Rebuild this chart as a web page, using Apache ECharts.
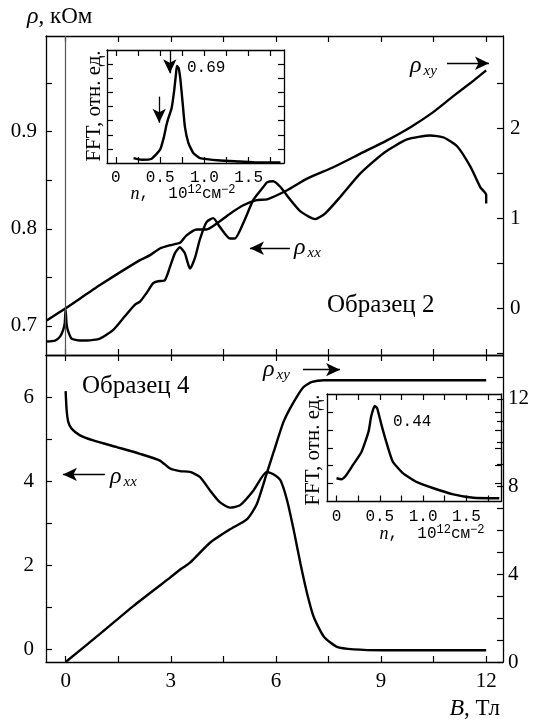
<!DOCTYPE html>
<html>
<head>
<meta charset="utf-8">
<script src="https://cdn.jsdelivr.net/npm/echarts@6/dist/echarts.min.js"></script>
<style>
  html, body { margin: 0; padding: 0; background: #fff; }
  #chart { width: 534px; height: 722px; }
</style>
</head>
<body>
<div id="chart"></div>
<script>
// Образец 2 (верхняя панель): rho_xx в кОм (левая ось), rho_xy (правая ось)
var bTopXX = [-0.54, -0.30, -0.16, -0.07, -0.025, 0, 0.025, 0.06, 0.17, 0.41, 0.6, 0.98, 1.36, 1.69, 1.98, 2.12, 2.31, 2.5, 2.64, 2.83, 2.98, 3.12, 3.26, 3.4, 3.55, 3.69, 3.83, 4.02, 4.21, 4.4, 4.69, 4.83, 5.07, 5.36, 5.64, 5.75, 5.92, 6.13, 6.41, 6.7, 7.12, 7.41, 7.84, 8.41, 9.08, 9.74, 10.41, 10.79, 11.17, 11.55, 11.83, 12.0, 12.0];
var rhoTopXX = [0.684, 0.685, 0.689, 0.696, 0.703, 0.717, 0.703, 0.696, 0.687, 0.685, 0.685, 0.687, 0.696, 0.710, 0.722, 0.725, 0.734, 0.744, 0.746, 0.747, 0.761, 0.775, 0.781, 0.775, 0.759, 0.770, 0.789, 0.807, 0.811, 0.802, 0.790, 0.790, 0.806, 0.830, 0.843, 0.848, 0.849, 0.843, 0.830, 0.818, 0.810, 0.816, 0.833, 0.857, 0.878, 0.892, 0.896, 0.894, 0.885, 0.864, 0.843, 0.835, 0.826];
var bTopXY = [-0.54, 0, 0.98, 2.12, 2.41, 2.69, 2.98, 3.26, 3.45, 3.74, 4.02, 4.31, 4.69, 5.07, 5.45, 5.75, 6.32, 6.89, 7.65, 8.41, 9.17, 9.84, 10.5, 11.08, 11.65, 12.0];
var rhoTopXY = [-0.135, 0, 0.258, 0.535, 0.59, 0.664, 0.70, 0.727, 0.81, 0.875, 0.875, 0.94, 1.05, 1.144, 1.2, 1.21, 1.31, 1.44, 1.568, 1.716, 1.864, 2.01, 2.18, 2.36, 2.53, 2.64];

// Образец 4 (нижняя панель)
var bBotXX = [0, 0.03, 0.075, 0.17, 0.41, 0.79, 1.46, 2.12, 2.69, 2.98, 3.26, 3.55, 3.83, 4.12, 4.4, 4.69, 4.98, 5.36, 5.74, 5.94, 6.13, 6.32, 6.51, 6.70, 6.89, 7.08, 7.37, 7.74, 8.22, 9.08, 12];
var rhoBotXX = [6.14, 5.68, 5.41, 5.25, 5.09, 4.97, 4.81, 4.65, 4.49, 4.30, 4.24, 4.22, 4.10, 3.78, 3.50, 3.37, 3.43, 3.78, 4.22, 4.16, 4.02, 3.54, 2.83, 2.04, 1.33, 0.77, 0.30, 0.06, 0.0, -0.02, -0.02];
var bBotXY = [0, 0.98, 1.93, 2.98, 3.3, 3.55, 4.12, 4.69, 5.17, 5.45, 5.74, 5.94, 6.22, 6.51, 6.79, 7.03, 7.37, 8.6, 12];
var rhoBotXY = [0, 1.28, 2.55, 3.85, 4.25, 4.53, 5.44, 6.05, 6.50, 7.18, 8.61, 9.60, 10.96, 11.86, 12.54, 12.77, 12.85, 12.85, 12.85];

// FFT во вставках
var nFft2 = [0.2, 0.29, 0.4, 0.5, 0.54, 0.57, 0.59, 0.63, 0.66, 0.68, 0.69, 0.71, 0.73, 0.755, 0.78, 0.82, 0.875, 0.95, 1.18, 1.4, 1.59, 1.86];
var fft2 = [0.35, 0.23, 0.28, 0.94, 1.77, 2.63, 3.11, 3.88, 5.18, 6.35, 6.87, 6.71, 5.88, 4.24, 2.58, 1.41, 0.71, 0.35, 0.18, 0.11, 0.04, 0.04];
var nFft4 = [0.0, 0.06, 0.1, 0.19, 0.29, 0.37, 0.40, 0.44, 0.47, 0.52, 0.58, 0.65, 0.77, 0.92, 1.12, 1.35, 1.58, 1.88];
var fft4 = [1.30, 1.24, 1.39, 2.04, 2.78, 3.9, 4.74, 5.34, 5.2, 4.26, 3.24, 2.22, 1.57, 1.10, 0.74, 0.40, 0.21, 0.18];

// ticks / labels
var bTicks = [0, 1.5, 3, 4.5, 6, 7.5, 9, 10.5, 12];
var bLabels = [0, 3, 6, 9, 12];
var topLeftTicks = [0.7, 0.75, 0.8, 0.85, 0.9, 0.95];
var topLeftLabels = [0.7, 0.8, 0.9];
var topRightTicks = [-0.5, 0, 0.5, 1, 1.5, 2, 2.5];
var topRightLabels = [0, 1, 2];
var botLeftTicks = [0, 1, 2, 3, 4, 5, 6];
var botLeftLabels = [0, 2, 4, 6];
var botRightTicks = [0, 1, 2, 3, 4, 5, 6, 7, 8, 9, 10, 11, 12, 13];
var botRightLabels = [0, 4, 8, 12];
var nTicks = [0, 0.25, 0.5, 0.75, 1, 1.25, 1.5, 1.75];
var nLabels = [0, 0.5, 1, 1.5];
var fft2Ticks = [1, 2, 3, 4, 5, 6, 7];
var fft4Ticks = [1, 2, 3, 4, 5];

var SERIF = 'Liberation Serif';
var MONO = 'Liberation Mono';

function pairs(xs, ys) {
  return xs.map(function (x, i) { return [x, ys[i]]; });
}

function ax(grid, pos, min, max, ticks, labels, fmt, font) {
  return {
    type: 'value', gridIndex: grid, position: pos, min: min, max: max,
    axisLine: { show: true, onZero: false, lineStyle: { color: '#000', width: 1.3 } },
    axisTick: { show: true, inside: true, length: 6, customValues: ticks, lineStyle: { color: '#000', width: 1.2 } },
    axisLabel: labels ? {
      show: true, customValues: labels, formatter: fmt,
      color: '#000', fontFamily: font.family, fontSize: font.size, margin: font.margin
    } : { show: false },
    splitLine: { show: false }
  };
}

var big = { family: SERIF, size: 21, margin: 9 };
var small = { family: MONO, size: 16, margin: 7 };
function f1(v) { return v.toFixed(1); }
function fInt(v) { return String(v); }
function fN(v) { return v === 0 ? '0' : v.toFixed(1); }

function arrow(x1, y1, x2, y2) {
  return [{ coord: [x1, y1], symbol: 'none' }, { coord: [x2, y2], symbol: 'arrow' }];
}
function marks(data) {
  return {
    silent: true, symbol: 'none', symbolSize: [10, 14],
    label: { show: false }, emphasis: { disabled: true },
    lineStyle: { color: '#000', width: 1.3, type: 'solid' },
    animation: false, data: data
  };
}
function curve(xi, yi, data, extra) {
  return Object.assign({
    type: 'line', xAxisIndex: xi, yAxisIndex: yi, data: data,
    showSymbol: false, symbol: 'none', smooth: 0.2, silent: true,
    lineStyle: { color: '#000', width: 2.4 }
  }, extra || {});
}

function rho(sub, x, y) {
  return {
    type: 'text', x: x, y: y, silent: true,
    style: {
      text: '{r|ρ}{s|' + sub + '}', verticalAlign: 'middle',
      rich: {
        r: { fontFamily: SERIF, fontStyle: 'italic', fontSize: 24, lineHeight: 26, fill: '#000' },
        s: { fontFamily: SERIF, fontStyle: 'italic', fontSize: 15, lineHeight: 14, verticalAlign: 'bottom', fill: '#000', padding: [0, 0, 0, 2] }
      }
    }
  };
}
function plain(t, x, y, size, family, align) {
  return {
    type: 'text', x: x, y: y, silent: true,
    style: { text: t, fontFamily: family, fontSize: size, fill: '#000', align: align || 'left', verticalAlign: 'middle' }
  };
}
function fftName(x, y) {
  return {
    type: 'text', x: x, y: y, rotation: Math.PI / 2, silent: true,
    style: { text: 'FFT, отн. ед.', fontFamily: SERIF, fontSize: 21, fill: '#000', align: 'center', verticalAlign: 'middle' }
  };
}
function nName(x, y) {
  return {
    type: 'text', x: x, y: y, silent: true,
    style: {
      text: '{i|n}{t|,  10}{p|12}{t|см}{p|−2}', align: 'center', verticalAlign: 'middle',
      rich: {
        i: { fontFamily: SERIF, fontStyle: 'italic', fontSize: 18, lineHeight: 20, fill: '#000' },
        t: { fontFamily: MONO, fontSize: 16, lineHeight: 20, fill: '#000' },
        p: { fontFamily: MONO, fontSize: 12, lineHeight: 11, verticalAlign: 'top', fill: '#000' }
      }
    }
  };
}
function axisTitle(sym, unit, x, y, align) {
  return {
    type: 'text', x: x, y: y, silent: true,
    style: {
      text: '{i|' + sym + '}{t|, ' + unit + '}', align: align, verticalAlign: 'middle',
      rich: {
        i: { fontFamily: SERIF, fontStyle: 'italic', fontSize: 24, fill: '#000' },
        t: { fontFamily: SERIF, fontSize: 23, fill: '#000' }
      }
    }
  };
}

var chart = echarts.init(document.getElementById('chart'), null, { renderer: 'canvas' });
chart.setOption({
  animation: false,
  backgroundColor: '#fff',
  grid: [
    { left: 46, top: 36, width: 457, height: 319, outerBoundsMode: 'none' },
    { left: 46, top: 355, width: 457, height: 307, outerBoundsMode: 'none' },
    { left: 107, top: 50, width: 177, height: 113, outerBoundsMode: 'none' },
    { left: 327, top: 394, width: 174, height: 107.5, outerBoundsMode: 'none' }
  ],
  xAxis: [
    ax(0, 'bottom', -0.56, 12.48, bTicks),
    ax(0, 'top', -0.56, 12.48, bTicks),
    ax(1, 'bottom', -0.56, 12.48, bTicks, bLabels, fInt, big),
    ax(1, 'top', -0.56, 12.48, bTicks),
    ax(2, 'bottom', -0.1, 1.9, nTicks, nLabels, fN, small),
    ax(2, 'top', -0.1, 1.9, nTicks),
    ax(3, 'bottom', -0.11, 1.9, nTicks, nLabels, fN, small),
    ax(3, 'top', -0.11, 1.9, nTicks)
  ],
  yAxis: [
    ax(0, 'left', 0.6701, 0.9985, topLeftTicks, topLeftLabels, f1, big),
    ax(0, 'right', -0.518, 3.022, topRightTicks, topRightLabels, fInt, { family: SERIF, size: 21, margin: 7 }),
    ax(1, 'left', -0.3, 7.0, botLeftTicks, botLeftLabels, fInt, { family: SERIF, size: 21, margin: 12 }),
    ax(1, 'right', 0, 14, botRightTicks, botRightLabels, fInt, { family: SERIF, size: 21, margin: 5 }),
    ax(2, 'left', 0, 8, fft2Ticks),
    ax(2, 'right', 0, 8, fft2Ticks),
    ax(3, 'left', 0, 6, fft4Ticks),
    ax(3, 'right', 0, 6, fft4Ticks)
  ],
  series: [
    curve(0, 0, pairs(bTopXX, rhoTopXX), {
      markLine: marks([
        [{ coord: [0, 0.6701], symbol: 'none', lineStyle: { color: '#555', width: 1.2 } },
         { coord: [0, 0.9985], symbol: 'none', lineStyle: { color: '#555', width: 1.2 } }],
        arrow(6.40, 0.780, 5.26, 0.780)
      ])
    }),
    curve(0, 1, pairs(bTopXY, rhoTopXY), {
      markLine: marks([arrow(10.88, 2.72, 12.08, 2.72)])
    }),
    curve(2, 2, pairs(bBotXX, rhoBotXX), {
      markLine: marks([arrow(1.12, 4.16, -0.077, 4.16)])
    }),
    curve(2, 3, pairs(bBotXY, rhoBotXY), {
      markLine: marks([arrow(6.77, 13.33, 7.83, 13.33)])
    }),
    curve(4, 4, pairs(nFft2, fft2), {
      smooth: 0.15,
      markLine: marks([arrow(0.61, 8.0, 0.61, 6.35), arrow(0.49, 4.7, 0.49, 2.85)])
    }),
    curve(6, 6, pairs(nFft4, fft4), { smooth: 0.15 })
  ],
  graphic: [
    axisTitle('ρ', 'кОм', 27, 17, 'left'),
    axisTitle('B', 'Тл', 500, 709, 'right'),
    plain('Образец 2', 327, 305, 25, SERIF),
    plain('Образец 4', 82, 386, 25, SERIF),
    rho('xy', 410, 66),
    rho('xx', 294, 248),
    rho('xx', 110, 477),
    rho('xy', 263, 370),
    plain('0.69', 187, 68, 16, MONO),
    plain('0.44', 393, 422, 16, MONO),
    fftName(94, 106),
    fftName(313, 450),
    nName(183, 194),
    nName(432, 534)
  ]
});
</script>
</body>
</html>
